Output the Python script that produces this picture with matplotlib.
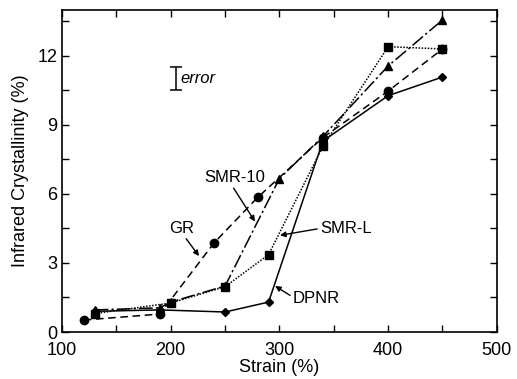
import matplotlib
matplotlib.use("Agg")
import matplotlib.pyplot as plt
from matplotlib.ticker import MultipleLocator, FixedLocator

plt.rcParams['font.family'] = ['Liberation Sans', 'DejaVu Sans']

# Data
gr_x = [120, 190, 240, 280, 340, 400, 450]
gr_y = [0.52, 0.78, 3.88, 5.85, 8.45, 10.47, 12.3]

smr10_x = [130, 190, 200, 250, 300, 340, 400, 450]
smr10_y = [0.96, 1.05, 1.3, 2.0, 6.67, 8.5, 11.56, 13.56]

smrl_x = [130, 200, 250, 290, 340, 400, 450]
smrl_y = [0.8, 1.26, 1.97, 3.36, 8.07, 12.4, 12.3]

dpnr_x = [130, 190, 250, 290, 340, 400, 450]
dpnr_y = [0.9, 0.96, 0.87, 1.3, 8.3, 10.27, 11.08]

x_ticks = [100, 200, 300, 400, 500]
y_ticks = [0, 3, 6, 9, 12]

fig = plt.figure(figsize=(5.17, 3.79), dpi=100)
ax = fig.add_axes([0.12, 0.124, 0.841, 0.85])

k = dict(color='black', lw=1.1, mfc='black', mec='black')
ax.plot(gr_x, gr_y, linestyle=(0, (5, 3)), marker='o', ms=6, **k)
ax.plot(smr10_x, smr10_y, linestyle=(0, (9, 2, 1.5, 2)), marker='^', ms=6, **k)
ax.plot(smrl_x, smrl_y, linestyle=(0, (1, 1)), marker='s', ms=6, **k)
ax.plot(dpnr_x, dpnr_y, linestyle='-', marker='D', ms=4.5, **k)

# error bar
ax.errorbar([205], [11.0], yerr=[0.5], color='black', capsize=4, lw=1.1, capthick=1.1)
ax.text(209, 11.0, 'error', fontsize=12, style='italic', va='center', ha='left')

ap = dict(arrowstyle='-|>', color='black', lw=1.0, mutation_scale=8, shrinkA=0, shrinkB=0)
ax.annotate('SMR-10', xy=(277.5, 4.8), xytext=(259, 6.7), fontsize=12,
            ha='center', va='center', arrowprops=dict(ap, relpos=(0.45, 0)))
ax.annotate('GR', xy=(226, 3.3), xytext=(210, 4.5), fontsize=12,
            ha='center', va='center', arrowprops=dict(ap, relpos=(0.6, 0)))
ax.annotate('SMR-L', xy=(300.5, 4.2), xytext=(361, 4.5), fontsize=12,
            ha='center', va='center', arrowprops=dict(ap, relpos=(0, 0.5)))
ax.annotate('DPNR', xy=(296, 2.0), xytext=(334, 1.45), fontsize=12,
            ha='center', va='center', arrowprops=dict(ap, relpos=(0, 0.6)))

ax.set_xlim(100, 500)
ax.set_ylim(0, 14)
ax.xaxis.set_major_locator(FixedLocator(x_ticks))
ax.yaxis.set_major_locator(FixedLocator(y_ticks))
ax.xaxis.set_minor_locator(MultipleLocator(50))
ax.yaxis.set_minor_locator(MultipleLocator(1.5))
ax.tick_params(which='both', direction='in', top=True, right=True, length=5, width=1, labelsize=13)
ax.tick_params(axis='x', pad=7)
for s in ax.spines.values():
    s.set_linewidth(1.2)

ax.set_xlabel('Strain (%)', fontsize=13, labelpad=0)
ax.set_ylabel('Infrared Crystallinity (%)', fontsize=13, labelpad=6)

fig.savefig('out.png', dpi=100)
